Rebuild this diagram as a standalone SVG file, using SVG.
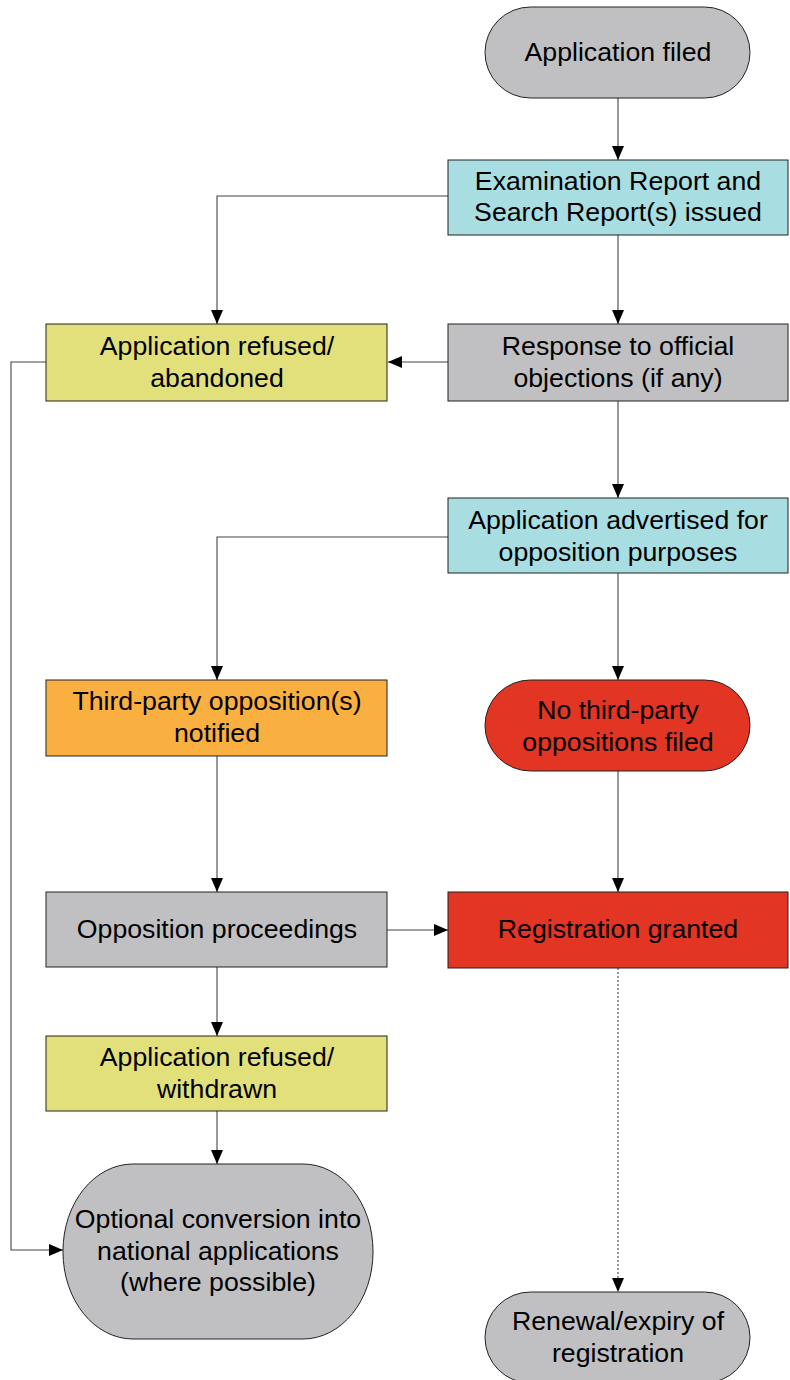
<svg xmlns="http://www.w3.org/2000/svg" width="790" height="1380" viewBox="0 0 790 1380">
<defs>
<style>
.n{stroke:#222;stroke-width:1}
.g{fill:#c0c0c2}.c{fill:#a8dde1}.y{fill:#e2e07a}.o{fill:#f9b040}.r{fill:#e23524}
text{font-family:"Liberation Sans",Arial,sans-serif;font-size:26.7px;fill:#000;text-anchor:middle}
.e{fill:none;stroke:#444;stroke-width:1.1}
.d{stroke-dasharray:2,2}
</style>
<marker id="a" markerWidth="14" markerHeight="14" viewBox="0 0 14 14" refX="14" refY="7" orient="auto" markerUnits="userSpaceOnUse">
<path d="M0,1 L14,7 L0,13 z" fill="#000"/>
</marker>
</defs>
<g id="connectors">
<path class="e" d="M618,98 V160" marker-end="url(#a)"/>
<path class="e" d="M448,196 H217 V324" marker-end="url(#a)"/>
<path class="e" d="M618,235 V324" marker-end="url(#a)"/>
<path class="e" d="M448,362 H388" marker-end="url(#a)"/>
<path class="e" d="M618,401 V498" marker-end="url(#a)"/>
<path class="e" d="M448,537 H217 V680" marker-end="url(#a)"/>
<path class="e" d="M618,573 V680" marker-end="url(#a)"/>
<path class="e" d="M618,771 V892" marker-end="url(#a)"/>
<path class="e" d="M217,756 V892" marker-end="url(#a)"/>
<path class="e" d="M387,930 H448" marker-end="url(#a)"/>
<path class="e" d="M217,967 V1036" marker-end="url(#a)"/>
<path class="e" d="M217,1111 V1164" marker-end="url(#a)"/>
<path class="e" d="M46,362 H11 V1250 H63" marker-end="url(#a)"/>
<path class="e d" d="M618,968 V1292" marker-end="url(#a)"/>
</g>
<g id="filed"><rect class="n g" x="485" y="7" width="265" height="91" rx="45.5"/><text x="618" y="61">Application filed</text></g>
<g id="exam"><rect class="n c" x="448" y="160" width="340" height="75"/><text x="618" y="190">Examination Report and</text><text x="618" y="221">Search Report(s) issued</text></g>
<g id="response"><rect class="n g" x="448" y="324" width="340" height="77"/><text x="618" y="355">Response to official</text><text x="618" y="387">objections (if any)</text></g>
<g id="refused1"><rect class="n y" x="46" y="324" width="341" height="77"/><text x="217" y="355">Application refused/</text><text x="217" y="387">abandoned</text></g>
<g id="advertised"><rect class="n c" x="448" y="498" width="340" height="75"/><text x="618" y="529">Application advertised for</text><text x="618" y="561">opposition purposes</text></g>
<g id="thirdparty"><rect class="n o" x="46" y="680" width="341" height="76"/><text x="217" y="710">Third-party opposition(s)</text><text x="217" y="742">notified</text></g>
<g id="noopp"><rect class="n r" x="485" y="680" width="265" height="91" rx="45.5"/><text x="618" y="719">No third-party</text><text x="618" y="751">oppositions filed</text></g>
<g id="proceedings"><rect class="n g" x="46" y="892" width="341" height="75"/><text x="217" y="938">Opposition proceedings</text></g>
<g id="granted"><rect class="n r" x="448" y="892" width="340" height="76"/><text x="618" y="938">Registration granted</text></g>
<g id="refused2"><rect class="n y" x="46" y="1036" width="341" height="75"/><text x="217" y="1066">Application refused/</text><text x="217" y="1098">withdrawn</text></g>
<g id="conversion"><rect class="n g" x="63" y="1164" width="310" height="175" rx="70" ry="87"/><text x="218" y="1228">Optional conversion into</text><text x="218" y="1260">national applications</text><text x="218" y="1291">(where possible)</text></g>
<g id="renewal"><rect class="n g" x="485" y="1292" width="265" height="91" rx="45.5"/><text x="618" y="1330">Renewal/expiry of</text><text x="618" y="1362">registration</text></g>
</svg>
